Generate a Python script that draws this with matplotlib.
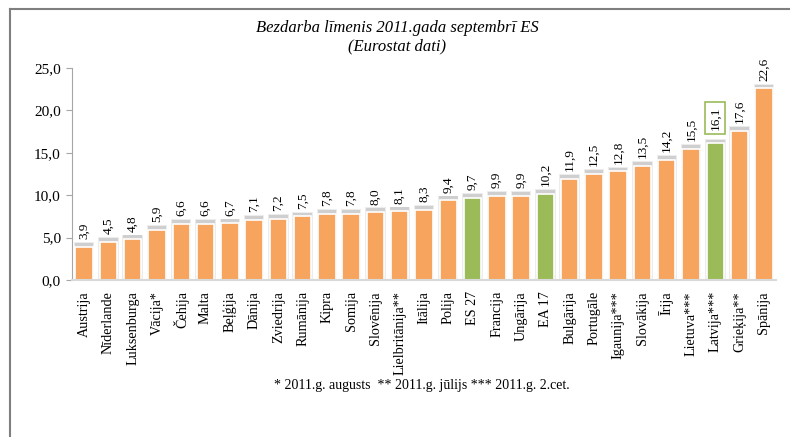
import matplotlib
matplotlib.use("Agg")
import matplotlib.pyplot as plt
from matplotlib.lines import Line2D

countries = ["Austrija", "Nīderlande", "Luksenburga", "Vācija*", "Čehija", "Malta",
             "Beļģija", "Dānija", "Zviedrija", "Rumānija", "Kipra", "Somija", "Slovēnija",
             "Lielbritānija**", "Itālija", "Polija", "ES 27", "Francija", "Ungārija",
             "EA 17", "Bulgārija", "Portugāle", "Igaunija***", "Slovākija", "Īrija",
             "Lietuva***", "Latvija***", "Grieķija**", "Spānija"]
values = [3.9, 4.5, 4.8, 5.9, 6.6, 6.6, 6.7, 7.1, 7.2, 7.5, 7.8, 7.8, 8.0, 8.1, 8.3,
          9.4, 9.7, 9.9, 9.9, 10.2, 11.9, 12.5, 12.8, 13.5, 14.2, 15.5, 16.1, 17.6, 22.6]
green = ["ES 27", "EA 17", "Latvija***"]
highlight = "Latvija***"
yticks = [0, 5, 10, 15, 20, 25]

ORANGE = "#F6A45E"
GREEN = "#9BBB59"

plt.rcParams['font.family'] = ['Liberation Serif', 'DejaVu Serif']

fig = plt.figure(figsize=(7.9, 4.37), dpi=100)
fig.patch.set_facecolor("white")

# outer frame lines (top and left)
fig.add_artist(Line2D([10/790, 1], [1 - 9/437, 1 - 9/437], color="#7f7f7f", lw=1.5))
fig.add_artist(Line2D([10/790, 10/790], [0, 1 - 9/437], color="#7f7f7f", lw=1.5))

ax = fig.add_axes([72/790, 1 - 280/437, (776 - 72)/790, (280 - 68)/437])
x = list(range(len(countries)))
colors = [GREEN if c in green else ORANGE for c in countries]

# shadow / glow behind bars
ax.bar(x, [v + 0.55 for v in values], width=0.84, color="#ececec", zorder=1)
ax.bar(x, [v + 0.45 for v in values], width=0.76, color="#cfcfcf", zorder=1.5)
ax.bar(x, [v - 0.6 for v in values], bottom=0.6, width=0.76, color="#ececec", zorder=1.6)
ax.bar(x, values, width=0.72, color=colors, edgecolor="white", linewidth=1.2, zorder=2)

for xi, v, c in zip(x, values, countries):
    label = f"{v:.1f}".replace(".", ",")
    if c == highlight:
        ax.annotate(label, (xi, v), xytext=(0, 10), textcoords="offset points",
                    rotation=90, ha="center", va="bottom", fontsize=9.5,
                    bbox=dict(boxstyle="square,pad=0.3", fc="white", ec=GREEN, lw=1.2))
    else:
        ax.annotate(label, (xi, v), xytext=(0, 5.5), textcoords="offset points",
                    rotation=90, ha="center", va="bottom", fontsize=9.5)

ax.set_xlim(-0.5, len(countries) - 0.5)
ax.set_ylim(0, 25)
ax.set_yticks(yticks)
ax.set_yticklabels([f"{t:.1f}".replace(".", ",") for t in yticks], fontsize=11)
ax.set_xticks(x)
ax.set_xticklabels(countries, rotation=90, fontsize=10.2, va="top")
ax.tick_params(axis="x", length=0, pad=8)
ax.tick_params(axis="y", length=4, color="#a6a6a6", pad=4)
for s in ["top", "right"]:
    ax.spines[s].set_visible(False)
ax.spines["left"].set_color("#a6a6a6")
ax.spines["bottom"].set_color("#d9d9d9")
ax.spines["bottom"].set_linewidth(1.5)

fig.text(397/790, 1 - 28/437, "Bezdarba līmenis 2011.gada septembrī ES", ha="center",
         va="center", fontsize=12, style="italic")
fig.text(397/790, 1 - 46/437, "(Eurostat dati)", ha="center", va="center",
         fontsize=12, style="italic")
fig.text(422/790, 1 - 386/437, "* 2011.g. augusts  ** 2011.g. jūlijs *** 2011.g. 2.cet.",
         ha="center", va="center", fontsize=10)

fig.savefig("out.png", dpi=100, facecolor="white")
